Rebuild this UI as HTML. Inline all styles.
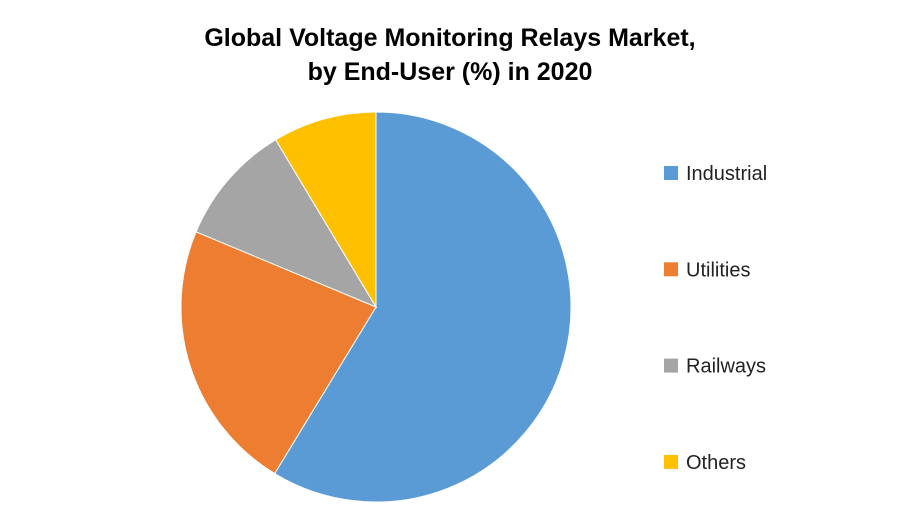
<!DOCTYPE html>
<html>
<head>
<meta charset="utf-8">
<style>
  html, body { margin: 0; padding: 0; background: #fff; }
  body { width: 900px; height: 525px; overflow: hidden; font-family: "Liberation Sans", sans-serif; }
</style>
</head>
<body>
<svg id="chart" width="900" height="525" viewBox="0 0 900 525" xmlns="http://www.w3.org/2000/svg">
  <text x="450" y="46" text-anchor="middle" font-family="Liberation Sans, sans-serif" font-weight="bold" font-size="25" fill="#000">Global Voltage Monitoring Relays Market,</text>
  <text x="450" y="80" text-anchor="middle" font-family="Liberation Sans, sans-serif" font-weight="bold" font-size="25" fill="#000">by End-User (%) in 2020</text>
  <g id="slices"></g>
  <g id="legend"></g>
</svg>
<script>
const categories = ["Industrial", "Utilities", "Railways", "Others"];
const values = [58.7, 22.6, 10.1, 8.6];
const colors = ["#5B9BD5", "#ED7D31", "#A5A5A5", "#FFC000"];

const NS = "http://www.w3.org/2000/svg";
const cx = 376, cy = 307, r = 195;
const total = values.reduce((a, b) => a + b, 0);
const slicesG = document.getElementById("slices");
const legendG = document.getElementById("legend");
let acc = 0;
function pt(frac) {
  const a = frac * 2 * Math.PI;
  return [cx + r * Math.sin(a), cy - r * Math.cos(a)];
}
values.forEach((v, i) => {
  const f0 = acc / total;
  acc += v;
  const f1 = acc / total;
  const [x0, y0] = pt(f0);
  const [x1, y1] = pt(f1);
  const large = (f1 - f0) > 0.5 ? 1 : 0;
  const p = document.createElementNS(NS, "path");
  p.setAttribute("d", `M${cx},${cy} L${x0},${y0} A${r},${r} 0 ${large} 1 ${x1},${y1} Z`);
  p.setAttribute("fill", colors[i]);
  p.setAttribute("stroke", "#fff");
  p.setAttribute("stroke-width", "1");
  
  
  slicesG.appendChild(p);
});
categories.forEach((c, i) => {
  const y = 173 + i * 96.3;
  const g = document.createElementNS(NS, "g");
  
  
  const rect = document.createElementNS(NS, "rect");
  rect.setAttribute("x", 664);
  rect.setAttribute("y", y - 7);
  rect.setAttribute("width", 14);
  rect.setAttribute("height", 14);
  rect.setAttribute("fill", colors[i]);
  
  
  const t = document.createElementNS(NS, "text");
  t.setAttribute("x", 686);
  t.setAttribute("y", y + 7);
  t.setAttribute("font-size", "20");
  t.setAttribute("font-family", "Liberation Sans, sans-serif");
  t.setAttribute("fill", "#222");
  t.textContent = c;
  
  
  g.appendChild(rect);
  g.appendChild(t);
  legendG.appendChild(g);
});
</script>
</body>
</html>
